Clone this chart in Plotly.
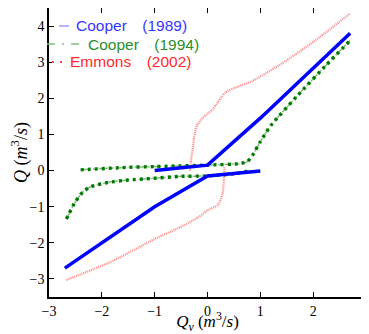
import plotly.graph_objects as go

# Cooper (1989) - two branches
c89_up_x = [-1.0, 0.0, 1.0, 2.7]
c89_up_y = [0.0, 0.15, 1.45, 3.8]
c89_lo_x = [-2.7, -1.0, 0.0, 1.0]
c89_lo_y = [-2.7, -1.0, -0.15, -0.01]

# Cooper (1994)
c94_up_x = [-2.4, -1.5, -1.0, 0.0, 0.6, 0.75, 0.85, 1.0, 1.2, 1.7, 2.26, 2.7]
c94_up_y = [0.02, 0.09, 0.11, 0.15, 0.19, 0.24, 0.42, 0.8, 1.25, 2.07, 2.94, 3.6]
c94_lo_x = [-2.67, -2.52, -2.36, -2.2, -1.89, -1.5, -1.07, -0.5, 0.0, 0.5, 0.78]
c94_lo_y = [-1.34, -0.91, -0.59, -0.44, -0.33, -0.26, -0.22, -0.16, -0.15, -0.09, -0.01]

# Emmons (2002)
e02_up_x = [-0.33, -0.31, -0.28, -0.25, -0.2, -0.08, 0.1, 0.33, 0.5, 0.85, 1.48, 2.11, 2.7]
e02_up_y = [0.0, 0.3, 0.6, 0.95, 1.25, 1.47, 1.7, 2.15, 2.28, 2.48, 3.03, 3.68, 4.35]
e02_lo_x = [-2.67, -1.82, -0.98, -0.45, -0.16, 0.0, 0.19, 0.28, 0.31, 0.32]
e02_lo_y = [-3.03, -2.52, -1.88, -1.52, -1.28, -1.1, -0.96, -0.68, -0.27, 0.1]

x_ticks = [-3, -2, -1, 0, 1, 2, 3]
y_ticks = [-3, -2, -1, 0, 1, 2, 3, 4]

series_names = ["Cooper\u2003(1989)", "Cooper\u2003(1994)", "Emmons\u2003(2002)"]

BLUE = "#0000ff"
GREEN_D = "#007a00"
GREEN_L = "#7fbf7f"
RED_LINE = "rgba(255,90,90,0.75)"

fig = go.Figure()

# red
for xs, ys in [(e02_up_x, e02_up_y), (e02_lo_x, e02_lo_y)]:
    fig.add_trace(go.Scatter(x=xs, y=ys, mode="lines", showlegend=False, name=series_names[2],
                             line=dict(color=RED_LINE, width=2.2, dash="1px,1px",
                                       shape="spline", smoothing=0.6)))
# green
for xs, ys in [(c94_up_x, c94_up_y), (c94_lo_x, c94_lo_y)]:
    fig.add_trace(go.Scatter(x=xs, y=ys, mode="lines", showlegend=False, name=series_names[1],
                             line=dict(color=GREEN_L, width=1.5, dash="dashdot", shape="spline", smoothing=0.5)))
    fig.add_trace(go.Scatter(x=xs, y=ys, mode="lines", showlegend=False, name=series_names[1],
                             line=dict(color=GREEN_D, width=3.4, dash="3px,4px", shape="spline", smoothing=0.5)))
# blue
for xs, ys in [(c89_up_x, c89_up_y), (c89_lo_x, c89_lo_y)]:
    fig.add_trace(go.Scatter(x=xs, y=ys, mode="lines", showlegend=False, name=series_names[0],
                             line=dict(color=BLUE, width=3.5)))

# --- legend drawn as annotations + sample lines (page coords -> paper coords)
PL, PT, PW, PH = 49, 8, 317, 289  # plot area in page pixels


def px(xp):
    return (xp - PL) / PW


def py(yp):
    return (PT + PH - yp) / PH


legend_rows = [
    dict(y=26, tx=76, color="#3636ff", sample=dict(x0=59, x1=69, color="rgba(80,80,255,0.55)", width=1.6, dash="solid")),
    dict(y=44, tx=88, color="#2a8f2a", sample=dict(x0=47, x1=82, color="#80c080", width=1.6, dash="8px,7px,2px,7px")),
    dict(y=62, tx=70, color="#ff2a2a", sample=dict(x0=52, x1=64, color="#ff5050", width=2, dash="2px,6px")),
]
for name, row in zip(series_names, legend_rows):
    s = row["sample"]
    fig.add_shape(type="line", xref="paper", yref="paper",
                  x0=px(s["x0"]), x1=px(s["x1"]), y0=py(row["y"]), y1=py(row["y"]),
                  line=dict(color=s["color"], width=s["width"], dash=s["dash"]))
    fig.add_annotation(xref="paper", yref="paper", x=px(row["tx"]), y=py(row["y"]),
                       xanchor="left", yanchor="middle", showarrow=False, text=name,
                       borderpad=0, borderwidth=0,
                       font=dict(family="Liberation Sans", size=15.5, color=row["color"]))

axis_common = dict(showgrid=False, zeroline=False, showline=True, linecolor="black", linewidth=1.5,
                   mirror="ticks", ticks="inside", ticklen=5, tickwidth=1, tickcolor="black",
                   automargin=False,
                   tickfont=dict(family="Liberation Serif", size=14, color="black"))

# page body has an 8px margin, so the figure is sized/offset to compensate
fig.update_layout(
    width=361, height=326,
    margin=dict(l=41, r=3, t=0, b=37, autoexpand=False),
    plot_bgcolor="white", paper_bgcolor="white",
    xaxis=dict(range=[-3, 3], tickvals=x_ticks,
               title=dict(text="<i>Q<sub>v</sub></i> (<i>m</i><sup>3</sup>/<i>s</i>)",
                          font=dict(family="Liberation Serif", size=17, color="black"), standoff=0),
               **axis_common),
    yaxis=dict(range=[-3.5, 4.5], tickvals=y_ticks,
               title=dict(text="<i>Q</i> (<i>m</i><sup>3</sup>/<i>s</i>)",
                          font=dict(family="Liberation Serif", size=18, color="black"), standoff=4),
               **axis_common),
    showlegend=False,
)

fig.write_html("out.html")
